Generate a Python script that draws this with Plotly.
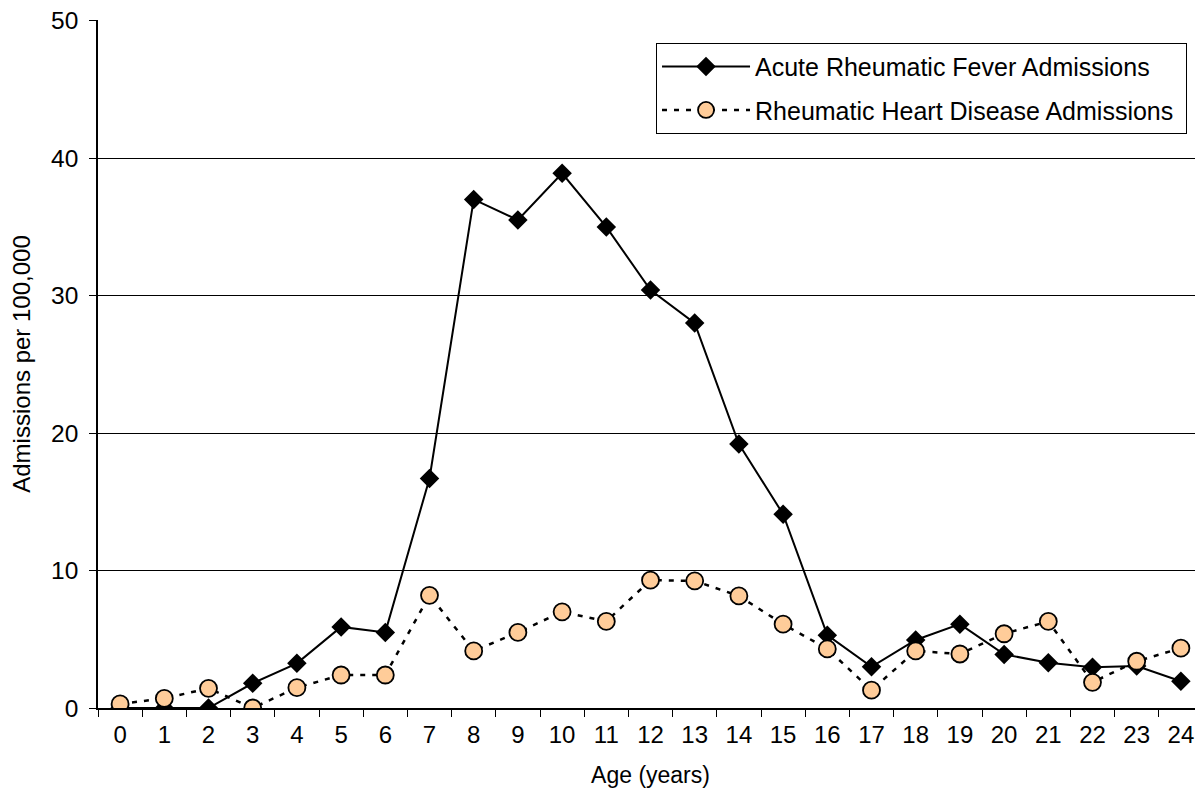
import plotly.graph_objects as go

ages = [str(a) for a in range(25)]
arf = [0, 0, 0, 1.8, 3.25, 5.9, 5.5, 16.7, 37.0, 35.5, 38.9, 35.0, 30.4, 28.0,
       19.2, 14.1, 5.3, 3.0, 4.95, 6.1, 3.9, 3.3, 2.96, 3.05, 1.95]
rhd = [0.3, 0.7, 1.43, 0, 1.48, 2.4, 2.4, 8.2, 4.15, 5.5, 7.0, 6.3, 9.3, 9.25,
       8.15, 6.1, 4.3, 1.3, 4.15, 3.93, 5.4, 6.3, 1.87, 3.4, 4.35]
y_ticks = [0, 10, 20, 30, 40, 50]

FONT = "Liberation Sans, Arial, sans-serif"
PAD = "\u00a0"

fig = go.Figure()
fig.add_trace(go.Scatter(
    x=ages, y=arf, mode="lines+markers",
    name="Acute Rheumatic Fever Admissions" + PAD, legendgroup="a",
    line=dict(color="black", width=2),
    marker=dict(symbol="diamond", size=15, color="black"),
))
fig.add_trace(go.Scatter(
    x=ages, y=rhd, mode="lines+markers",
    name="Rheumatic Heart Disease Admissions" + PAD, legendgroup="b",
    line=dict(color="black", width=2.5, dash="5px,7px"),
    marker=dict(symbol="circle", size=17, color="#FFCC99",
                line=dict(color="black", width=1.8)),
))

# the page body has an 8px margin, so the figure is shifted by 8px
fig.update_layout(
    width=1195, height=785,
    margin=dict(l=90, r=0, t=12, b=85),
    plot_bgcolor="white", paper_bgcolor="white",
    font=dict(family=FONT, size=24, color="black"),
    legend=dict(
        x=0.505, y=0.967, xanchor="left", yanchor="top",
        bgcolor="white", bordercolor="black", borderwidth=1,
        font=dict(size=25), itemwidth=88, tracegroupgap=8,
    ),
    xaxis=dict(
        type="category", tickson="boundaries", ticks="outside", ticklen=7,
        tickcolor="black", showline=True, linecolor="black", linewidth=1.5,
        showgrid=False, range=[-0.5, 24.5], tickfont=dict(size=24),
        ticklabelstandoff=4,
        title=dict(text="Age (years)", font=dict(size=23), standoff=20),
    ),
    yaxis=dict(
        range=[0, 50.05], tickvals=y_ticks, ticks="outside", ticklen=7,
        tickcolor="black", showline=True, linecolor="black", linewidth=1.5,
        showgrid=True, gridcolor="black", gridwidth=1, zeroline=False,
        tickfont=dict(size=24.5), ticklabelstandoff=6,
        ticklabeloverflow="allow",
        title=dict(text="Admissions per 100,000", font=dict(size=24), standoff=14),
    ),
)

fig.write_html("out.html")
